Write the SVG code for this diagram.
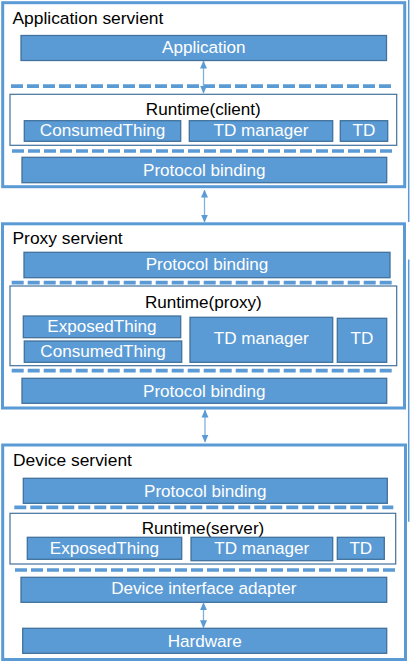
<svg xmlns="http://www.w3.org/2000/svg" width="412" height="664" viewBox="0 0 412 664">
<defs>
<style>
.outer{fill:#fff;stroke:#5B9BD5;stroke-width:3}
.rt{fill:#fff;stroke:#41719C;stroke-width:1.2}
.bar{fill:#5B9BD5;stroke:#41719C;stroke-width:1.3}
.dash{stroke:#5B9BD5;stroke-width:3.7;stroke-dasharray:12 4;fill:none}
.side{stroke:#5B9BD5;stroke-width:1.5;fill:none}
.arr{stroke:#7FB0DE;stroke-width:1.3;fill:none;marker-start:url(#ah);marker-end:url(#ah)}
text{font-family:"Liberation Sans",Arial,sans-serif;font-size:17.1px}
.w{fill:#fff;text-anchor:middle}
.k{fill:#000;font-size:17.4px}
.c{fill:#000;text-anchor:middle}
</style>
<marker id="ah" viewBox="0 0 8 8" refX="7.5" refY="4" markerWidth="8" markerHeight="8" markerUnits="userSpaceOnUse" orient="auto-start-reverse">
<path d="M0,0.5 L8,4 L0,7.5 Z" fill="#5B9BD5"/>
</marker>
</defs>

<g id="side-lines">
<line class="side" x1="408.7" y1="0" x2="408.7" y2="222"/>
<line class="side" x1="408.7" y1="259.5" x2="408.7" y2="521.7"/>
</g>

<g id="application-servient">
<rect class="outer" x="2.7" y="2.7" width="402" height="184"/>
<text class="k" x="12.5" y="24">Application servient</text>
<g id="app-application"><rect class="bar" x="21" y="35.5" width="365.5" height="25"/><text class="w" x="203.8" y="52.7">Application</text></g>
<g id="runtime-client">
<rect class="rt" x="10" y="94.3" width="386.7" height="51"/>
<text class="c" x="203.3" y="115">Runtime(client)</text>
<g id="client-consumedthing"><rect class="bar" x="24.3" y="120.7" width="156.4" height="20.6"/><text class="w" x="102.5" y="135.7">ConsumedThing</text></g>
<g id="client-tdmanager"><rect class="bar" x="189.3" y="120.7" width="143.4" height="20.6"/><text class="w" x="261" y="135.7">TD manager</text></g>
<g id="client-td"><rect class="bar" x="340.3" y="120.7" width="47.4" height="20.6"/><text class="w" x="364" y="135.7">TD</text></g>
</g>
<g id="app-protocol"><rect class="bar" x="22" y="157.3" width="364.7" height="25.4"/><text class="w" x="204.3" y="176">Protocol binding</text></g>
</g>

<g id="proxy-servient">
<rect class="outer" x="2.5" y="223.8" width="402" height="184.2"/>
<text class="k" x="12.5" y="244.3">Proxy servient</text>
<g id="proxy-protocol-top"><rect class="bar" x="24" y="252.3" width="366" height="25.4"/><text class="w" x="207" y="270">Protocol binding</text></g>
<g id="runtime-proxy">
<rect class="rt" x="10" y="286" width="386.7" height="79.7"/>
<text class="c" x="203.3" y="307.7">Runtime(proxy)</text>
<g id="proxy-exposedthing"><rect class="bar" x="23.3" y="316" width="157.4" height="21.7"/><text class="w" x="102" y="332.3">ExposedThing</text></g>
<g id="proxy-consumedthing"><rect class="bar" x="24.3" y="341" width="157.4" height="21.3"/><text class="w" x="103" y="357.3">ConsumedThing</text></g>
<g id="proxy-tdmanager"><rect class="bar" x="190" y="317.3" width="142.7" height="45"/><text class="w" x="261.3" y="344.3">TD manager</text></g>
<g id="proxy-td"><rect class="bar" x="337.3" y="318.3" width="49.4" height="44"/><text class="w" x="362" y="344.3">TD</text></g>
</g>
<g id="proxy-protocol-bottom"><rect class="bar" x="22" y="378.3" width="364.7" height="25"/><text class="w" x="204.3" y="396.7">Protocol binding</text></g>
</g>

<g id="device-servient">
<rect class="outer" x="2.7" y="445" width="402.8" height="214.5"/>
<text class="k" x="13" y="465.7">Device servient</text>
<g id="device-protocol"><rect class="bar" x="23.3" y="478.3" width="364" height="25"/><text class="w" x="205.3" y="496.7">Protocol binding</text></g>
<g id="runtime-server">
<rect class="rt" x="10" y="513.3" width="385.7" height="50.7"/>
<text class="c" x="203" y="534.3">Runtime(server)</text>
<g id="server-exposedthing"><rect class="bar" x="27.3" y="537.3" width="154.4" height="22"/><text class="w" x="104.5" y="554">ExposedThing</text></g>
<g id="server-tdmanager"><rect class="bar" x="191" y="537.3" width="141.7" height="23.4"/><text class="w" x="261.8" y="554">TD manager</text></g>
<g id="server-td"><rect class="bar" x="337.3" y="537.3" width="47" height="22"/><text class="w" x="360.8" y="554">TD</text></g>
</g>
<g id="device-adapter"><rect class="bar" x="21" y="577.3" width="365.7" height="25"/><text class="w" x="203.8" y="594.3">Device interface adapter</text></g>
<g id="device-hardware"><rect class="bar" x="22.7" y="628.3" width="364" height="25"/><text class="w" x="204.7" y="646.7">Hardware</text></g>
</g>

<g id="separators">
<line class="dash" x1="11" y1="86.2" x2="391" y2="86.2"/>
<line class="dash" x1="12" y1="151" x2="392" y2="151"/>
<line class="dash" x1="11.7" y1="282.7" x2="395" y2="282.7"/>
<line class="dash" x1="11.7" y1="370.7" x2="391.7" y2="370.7"/>
<line class="dash" x1="14.3" y1="507.3" x2="393.3" y2="507.3"/>
<line class="dash" x1="15" y1="570" x2="395" y2="570"/>
</g>

<g id="connectors">
<line class="arr" x1="203.5" y1="61" x2="203.5" y2="93"/>
<line class="arr" x1="204.5" y1="190" x2="204.5" y2="222"/>
<line class="arr" x1="205" y1="410" x2="205" y2="442"/>
<line class="arr" x1="203.5" y1="602.8" x2="203.5" y2="627.8"/>
</g>
</svg>
